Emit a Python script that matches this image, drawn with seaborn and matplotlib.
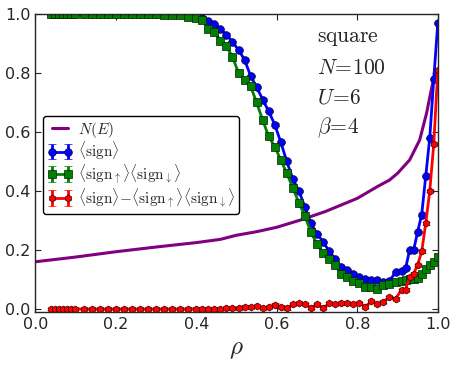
import numpy as np
import pandas as pd
import seaborn as sns
import matplotlib
matplotlib.use('Agg')
import matplotlib.pyplot as plt

# density grid for the sign measurements
rho = [0.04, 0.05, 0.06, 0.07, 0.08, 0.09, 0.10, 0.12, 0.14, 0.16, 0.18, 0.20,
       0.22, 0.24, 0.26, 0.28, 0.30, 0.32, 0.34, 0.36, 0.38, 0.40, 0.415, 0.43,
       0.445, 0.46, 0.475, 0.49, 0.505, 0.52, 0.535, 0.55, 0.565, 0.58, 0.595,
       0.61, 0.625, 0.64, 0.655, 0.67, 0.685, 0.70, 0.715, 0.73, 0.745, 0.76,
       0.775, 0.79, 0.805, 0.82, 0.835, 0.85, 0.865, 0.88, 0.895, 0.91, 0.92,
       0.93, 0.94, 0.95, 0.96, 0.97, 0.98, 0.99, 1.00]

sign = [1.0, 1.0, 1.0, 1.0, 1.0, 1.0, 1.0, 1.0, 1.0, 1.0, 1.0, 1.0,
        1.0, 1.0, 1.0, 1.0, 1.0, 1.0, 1.0, 0.999, 0.997, 0.993, 0.985, 0.976,
        0.966, 0.948, 0.93, 0.905, 0.878, 0.845, 0.79, 0.752, 0.71, 0.67, 0.625,
        0.565, 0.50, 0.44, 0.40, 0.345, 0.29, 0.255, 0.228, 0.196, 0.17, 0.142,
        0.132, 0.12, 0.108, 0.10, 0.097, 0.097, 0.09, 0.095, 0.125, 0.13, 0.138,
        0.20, 0.20, 0.262, 0.32, 0.45, 0.58, 0.78, 0.97]

sign_updn = [1.0, 1.0, 1.0, 1.0, 1.0, 1.0, 1.0, 1.0, 1.0, 1.0, 1.0, 1.0,
             1.0, 1.0, 1.0, 1.0, 0.999, 0.998, 0.998, 0.995, 0.99, 0.985, 0.98, 0.95,
             0.94, 0.91, 0.89, 0.855, 0.80, 0.775, 0.755, 0.70, 0.64, 0.585, 0.55,
             0.505, 0.46, 0.41, 0.36, 0.315, 0.26, 0.22, 0.19, 0.17, 0.15, 0.118,
             0.108, 0.096, 0.088, 0.076, 0.075, 0.068, 0.08, 0.085, 0.092, 0.095, 0.098,
             0.10, 0.103, 0.105, 0.12, 0.135, 0.15, 0.158, 0.175]

sign_diff = [0.0, 0.0, 0.0, 0.0, 0.0, 0.0, 0.0, 0.0, 0.0, 0.0, 0.0, 0.0,
             0.0, 0.0, 0.0, 0.0, 0.0, 0.0, 0.0, 0.0, 0.0, 0.001, 0.0, 0.001,
             0.0, 0.001, 0.002, 0.003, 0.002, 0.008, 0.006, 0.01, 0.004, 0.006, 0.015,
             0.008, 0.002, 0.017, 0.019, 0.018, 0.004, 0.017, 0.003, 0.019, 0.018, 0.019,
             0.02, 0.018, 0.021, 0.008, 0.026, 0.018, 0.025, 0.04, 0.035, 0.065, 0.066,
             0.11, 0.12, 0.15, 0.195, 0.29, 0.40, 0.56, 0.81]

# density of states curve
rho_dos = [0.0, 0.1, 0.2, 0.3, 0.4, 0.46, 0.5, 0.55, 0.6, 0.66, 0.72, 0.8, 0.85,
           0.88, 0.9, 0.93, 0.955, 0.972, 0.982, 0.989, 1.0]
dos = [0.16, 0.176, 0.194, 0.21, 0.225, 0.236, 0.25, 0.262, 0.277, 0.302, 0.33,
       0.375, 0.415, 0.437, 0.46, 0.505, 0.573, 0.663, 0.731, 0.776, 0.805]

sns.set_style('ticks')
plt.rcParams['mathtext.fontset'] = 'cm'
plt.rcParams['xtick.direction'] = 'in'
plt.rcParams['ytick.direction'] = 'in'
plt.rcParams['xtick.top'] = True
plt.rcParams['ytick.right'] = True
plt.rcParams['xtick.major.size'] = 4
plt.rcParams['ytick.major.size'] = 4

fig = plt.figure(figsize=(4.57, 3.67), dpi=100)
ax = fig.add_axes([0.077, 0.150, 0.881, 0.812])

df_dos = pd.DataFrame({'rho': rho_dos, 'dos': dos})
sns.lineplot(data=df_dos, x='rho', y='dos', ax=ax, color='#800080', lw=2.2,
             label='$N(E)$')

err = 0.004
ax.errorbar(rho, sign, yerr=err, color='blue', marker='o', ms=5.5, mec='#000033',
            mew=0.5, lw=2, capsize=3, label=r'$\langle\mathrm{sign}\rangle$')
ax.errorbar(rho, sign_updn, yerr=err, color='green', marker='s', ms=5.5, mec='#002200',
            mew=0.5, lw=2, capsize=3,
            label=r'$\langle\mathrm{sign}_\uparrow\rangle\langle\mathrm{sign}_\downarrow\rangle$')
ax.errorbar(rho, sign_diff, yerr=err, color='red', marker='h', ms=5, mec='#330000',
            mew=0.5, lw=2, capsize=3,
            label=r'$\langle\mathrm{sign}\rangle\!-\!\langle\mathrm{sign}_\uparrow\rangle\langle\mathrm{sign}_\downarrow\rangle$')

ax.set_xlim(0, 1.0)
ax.set_ylim(-0.01, 1.0)
ax.set_xticks([0.0, 0.2, 0.4, 0.6, 0.8, 1.0])
ax.set_yticks([0.0, 0.2, 0.4, 0.6, 0.8, 1.0])
ax.tick_params(labelsize=11.5)
ax.set_xlabel(r'$\rho$', fontsize=18)
ax.set_ylabel('')

ax.text(0.70, 0.92, r'$\mathrm{square}$', transform=ax.transAxes, fontsize=15.5, va='center')
ax.text(0.70, 0.82, r'$N\!=\!100$', transform=ax.transAxes, fontsize=15.5, va='center')
ax.text(0.70, 0.72, r'$U\!=\!6$', transform=ax.transAxes, fontsize=15.5, va='center')
ax.text(0.70, 0.62, r'$\beta\!=\!4$', transform=ax.transAxes, fontsize=15.5, va='center')

leg = ax.legend(loc='upper left', bbox_to_anchor=(0.02, 0.658), fontsize=11,
                numpoints=2, fancybox=True, framealpha=1, edgecolor='black',
                labelspacing=0.02, handlelength=1.7, handletextpad=0.35,
                borderpad=0.25, borderaxespad=0)
leg.get_frame().set_linewidth(1)

for s in ax.spines.values():
    s.set_linewidth(1)

plt.savefig('out.png', dpi=100)
